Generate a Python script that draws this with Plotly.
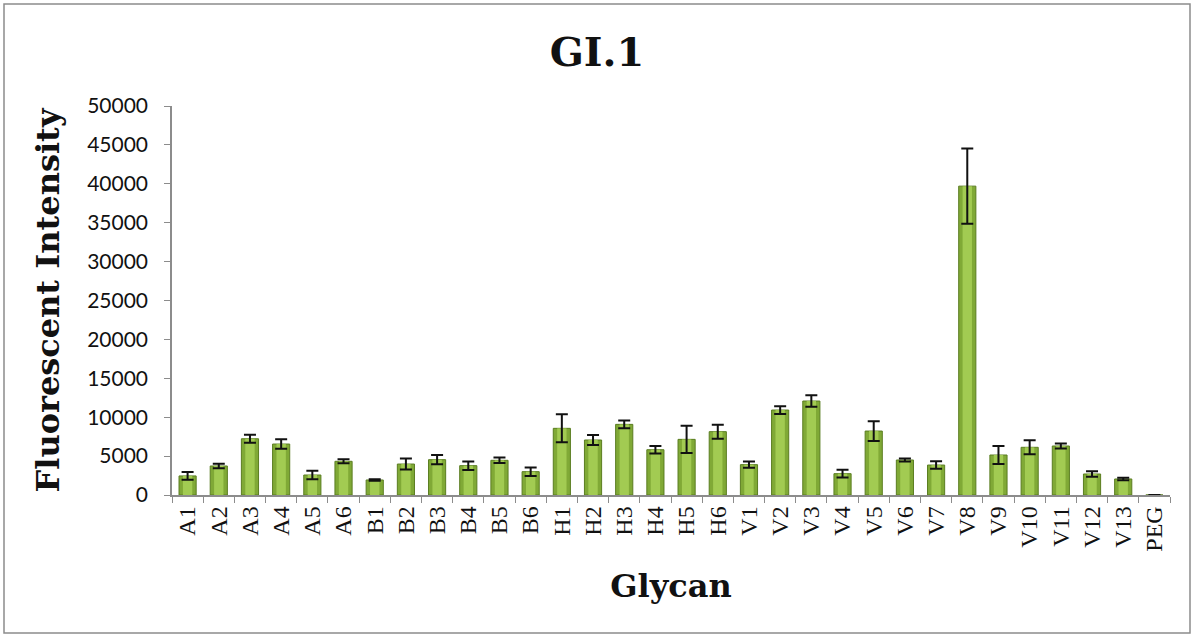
import plotly.graph_objects as go

# Glycan array binding of GI.1 — mean fluorescent intensity with error bars
glycans = ["A1", "A2", "A3", "A4", "A5", "A6",
           "B1", "B2", "B3", "B4", "B5", "B6",
           "H1", "H2", "H3", "H4", "H5", "H6",
           "V1", "V2", "V3", "V4", "V5", "V6", "V7", "V8", "V9",
           "V10", "V11", "V12", "V13", "PEG"]
intensity = [2450, 3730, 7230, 6550, 2570, 4330,
             1930, 3980, 4540, 3770, 4460, 3000,
             8570, 7070, 9080, 5820, 7150, 8140,
             3900, 10920, 12080, 2740, 8220, 4500, 3850, 39700, 5140,
             6130, 6300, 2700, 2060, 0]
errors = [500, 300, 500, 600, 550, 250,
          100, 700, 600, 550, 350, 550,
          1800, 650, 500, 470, 1750, 900,
          400, 500, 730, 500, 1270, 200, 490, 4850, 1160,
          900, 320, 360, 170, 0]

y_ticks = [0, 5000, 10000, 15000, 20000, 25000, 30000, 35000, 40000, 45000, 50000]

W, H = 1194, 637
ML, MR, MT, MB = 172, 24, 106, 142
PW, PH = W - ML - MR, H - MT - MB

serif = "DejaVu Serif"
label_serif = "Liberation Serif"
sans = "Lato"

fig = go.Figure()
# outer body of each bar (darker rim)
fig.add_trace(go.Bar(
    x=glycans, y=intensity,
    width=0.55,
    marker=dict(color="#80a936", line=dict(color="#5a7d20", width=1)),
    showlegend=False, hoverinfo="skip",
))
# lighter centre band for a rounded look, carrying the error bars
fig.add_trace(go.Bar(
    x=glycans, y=intensity,
    width=0.3,
    marker=dict(color="#a2cb52", line=dict(width=0)),
    error_y=dict(type="data", array=errors, visible=True,
                 color="#111111", thickness=2, width=6),
    showlegend=False,
))

# chart border
fig.add_shape(type="rect", xref="paper", yref="paper",
              x0=(4 - ML) / PW, x1=(1190 - ML) / PW,
              y0=(MT + PH - 633) / PH, y1=(MT + PH - 4) / PH,
              line=dict(color="#8c8c8c", width=1.5), fillcolor="rgba(0,0,0,0)",
              layer="below")

fig.update_layout(
    width=W, height=H,
    margin=dict(l=ML, r=MR, t=MT, b=MB),
    paper_bgcolor="white", plot_bgcolor="white",
    barmode="overlay",
    title=dict(text="<b>GI.1</b>", x=0.5, xanchor="center",
               y=1 - 52 / H, yanchor="middle",
               font=dict(family=serif, size=40, color="#111111")),
)
fig.update_xaxes(
    type="category",
    showline=True, linecolor="#8c8c8c", linewidth=1.5,
    ticks="outside", tickson="boundaries", ticklen=6, tickcolor="#8c8c8c",
    tickangle=-90,
    tickfont=dict(family=label_serif, size=24, color="#111111"),
    showgrid=False,
    title=dict(text="<b>Glycan</b>", font=dict(family=serif, size=32, color="#111111"),
               standoff=24),
)
fig.update_yaxes(
    range=[0, 50000],
    tickvals=y_ticks, ticktext=[str(v) for v in y_ticks],
    showline=True, linecolor="#8c8c8c", linewidth=1.5,
    ticks="outside", ticklen=6, tickcolor="#8c8c8c",
    ticklabelstandoff=12,
    tickfont=dict(family=sans, size=21, color="#111111"),
    showgrid=False, zeroline=False,
    title=dict(text="<b>Fluorescent Intensity</b>",
               font=dict(family=serif, size=32, color="#111111"), standoff=18),
)

fig.write_html("out.html")
